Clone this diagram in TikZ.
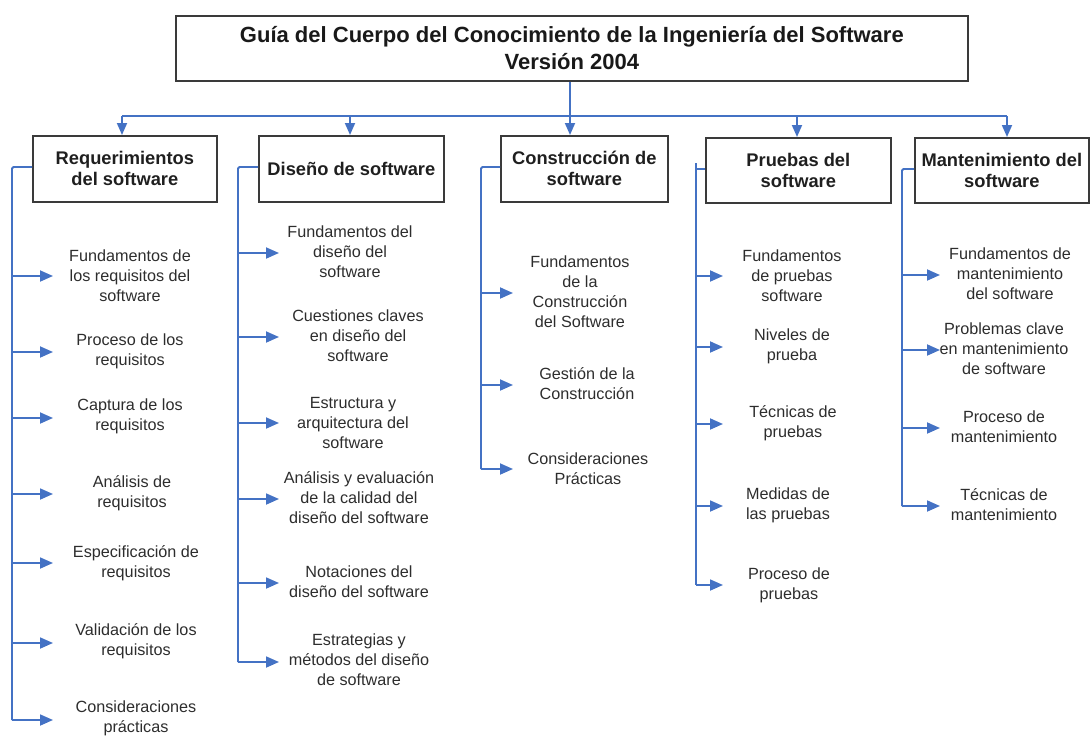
\documentclass[tikz,border=0pt]{standalone}
\usepackage{fontspec}
\setmainfont{Liberation Sans}
\usetikzlibrary{arrows.meta}
\definecolor{lineblue}{RGB}{68,114,196}
\definecolor{boxgray}{RGB}{58,58,58}
\definecolor{txtgray}{RGB}{45,45,45}
\tikzset{
  titlebox/.style={draw=boxgray, line width=1.7pt, anchor=north west, inner sep=0pt,
    font=\bfseries\fontsize{22}{27}\selectfont, align=center, text=black!90},
  hdr/.style={draw=boxgray, line width=1.7pt, anchor=north west, inner sep=0pt,
    font=\bfseries\fontsize{18.3}{21}\selectfont, align=center, text=black!88},
  item/.style={font=\fontsize{16.2}{20}\selectfont, align=center, text=txtgray, inner sep=1pt},
  link/.style={draw=lineblue, line width=1.8pt, rounded corners=1.5pt},
  arr/.style={link, -{Triangle[length=13pt,width=11pt]}},
  darr/.style={link, -{Triangle[length=12pt,width=10pt]}}
}
\begin{document}
\begin{tikzpicture}[x=1pt,y=-1pt]
\useasboundingbox (0,0) rectangle (1090,736);
% title
\node[titlebox, minimum width=792pt, minimum height=65pt] (title) at (175,15)
  {Guía del Cuerpo del Conocimiento de la Ingeniería del Software\\Versión 2004};
% header boxes
\node[hdr, minimum width=184pt, minimum height=66pt] (h1) at (32,135) {Requerimientos\\del software};
\node[hdr, minimum width=185pt, minimum height=66pt] (h2) at (258,135) {Diseño de software};
\node[hdr, minimum width=167pt, minimum height=66pt] (h3) at (500,135) {Construcción de\\software};
\node[hdr, minimum width=185pt, minimum height=65pt] (h4) at (705,137) {Pruebas del\\software};
\node[hdr, minimum width=174pt, minimum height=65pt] (h5) at (914,137) {Mantenimiento del\\software};
% bus
\coordinate (b1) at (122,116);
\coordinate (b2) at (350,116);
\coordinate (b3) at (570,116);
\coordinate (b4) at (797,116);
\coordinate (b5) at (1007,116);
\draw[link] (b1) -- (b5);
\draw[link] (title.south -| b3) -- (b3);
\foreach \b/\h in {b1/h1,b2/h2,b3/h3,b4/h4,b5/h5}
  \draw[darr] (\b) -- (\b |- \h.north);
% column 1
\node[item] (i11) at (130,276) {Fundamentos de\\los requisitos del\\software};
\node[item] (i12) at (130,351) {Proceso de los\\requisitos};
\node[item] (i13) at (130,416) {Captura de los\\requisitos};
\node[item] (i14) at (132,493) {Análisis de\\requisitos};
\node[item] (i15) at (136,563) {Especificación de\\requisitos};
\node[item] (i16) at (136,641) {Validación de los\\requisitos};
\node[item] (i17) at (136,718) {Consideraciones\\prácticas};
\coordinate (v1t) at (12,167);
\coordinate (v1b) at (12,720);
\draw[link] (h1.west |- v1t) -- (v1t) -- (v1b);
\foreach \n/\y in {1/276,2/352,3/418,4/494,5/563,6/643,7/720}{
  \coordinate (t1\n) at (53,\y);
  \draw[arr] (v1t |- t1\n) -- (t1\n);
}
% column 2
\node[item] (i21) at (350,252) {Fundamentos del\\diseño del\\software};
\node[item] (i22) at (358,336) {Cuestiones claves\\en diseño del\\software};
\node[item] (i23) at (353,423) {Estructura y\\arquitectura del\\software};
\node[item] (i24) at (359,498) {Análisis y evaluación\\de la calidad del\\diseño del software};
\node[item] (i25) at (359,582) {Notaciones del\\diseño del software};
\node[item] (i26) at (359,660) {Estrategias y\\métodos del diseño\\de software};
\coordinate (v2t) at (238,167);
\coordinate (v2b) at (238,662);
\draw[link] (h2.west |- v2t) -- (v2t) -- (v2b);
\foreach \n/\y in {1/253,2/337,3/423,4/499,5/583,6/662}{
  \coordinate (t2\n) at (279,\y);
  \draw[arr] (v2t |- t2\n) -- (t2\n);
}
% column 3
\node[item] (i31) at (580,292) {Fundamentos\\de la\\Construcción\\del Software};
\node[item] (i32) at (587,384) {Gestión de la\\Construcción};
\node[item] (i33) at (588,469) {Consideraciones\\Prácticas};
\coordinate (v3t) at (481,167);
\coordinate (v3b) at (481,469);
\draw[link] (h3.west |- v3t) -- (v3t) -- (v3b);
\foreach \n/\y in {1/293,2/385,3/469}{
  \coordinate (t3\n) at (513,\y);
  \draw[arr] (v3t |- t3\n) -- (t3\n);
}
% column 4
\node[item] (i41) at (792,276) {Fundamentos\\de pruebas\\software};
\node[item] (i42) at (792,346) {Niveles de\\prueba};
\node[item] (i43) at (793,423) {Técnicas de\\pruebas};
\node[item] (i44) at (788,505) {Medidas de\\las pruebas};
\node[item] (i45) at (789,585) {Proceso de\\pruebas};
\coordinate (v4t) at (696,163);
\coordinate (v4c) at (696,169);
\coordinate (v4b) at (696,585);
\draw[link] (h4.west |- v4c) -- (v4c);
\draw[link] (v4t) -- (v4b);
\foreach \n/\y in {1/276,2/347,3/424,4/506,5/585}{
  \coordinate (t4\n) at (723,\y);
  \draw[arr] (v4t |- t4\n) -- (t4\n);
}
% column 5
\node[item] (i51) at (1010,274) {Fundamentos de\\mantenimiento\\del software};
\node[item] (i52) at (1004,349) {Problemas clave\\en mantenimiento\\de software};
\node[item] (i53) at (1004,427) {Proceso de\\mantenimiento};
\node[item] (i54) at (1004,505) {Técnicas de\\mantenimiento};
\coordinate (v5t) at (902,169);
\coordinate (v5b) at (902,506);
\draw[link] (h5.west |- v5t) -- (v5t) -- (v5b);
\foreach \n/\y in {1/275,2/350,3/428,4/506}{
  \coordinate (t5\n) at (940,\y);
  \draw[arr] (v5t |- t5\n) -- (t5\n);
}
\end{tikzpicture}
\end{document}
